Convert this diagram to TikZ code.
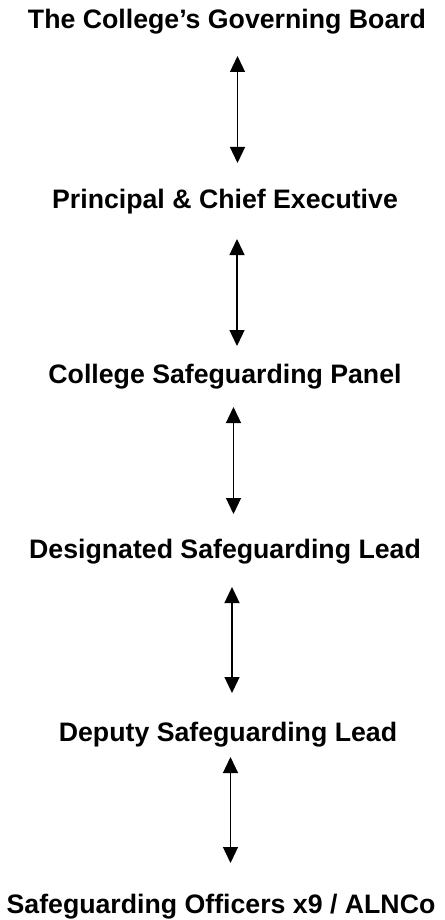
\documentclass[tikz,border=0pt]{standalone}
\usepackage{fontspec}
\setmainfont{Liberation Sans}
\usepackage{tikz}
\usetikzlibrary{arrows.meta, positioning}

\tikzset{
  level/.style={font=\bfseries\fontsize{26.7}{32}\selectfont, inner sep=0pt},
  link/.style={line width=1.3pt, {Triangle[width=15pt,length=16pt]}-{Triangle[width=15pt,length=16pt]}}
}

\begin{document}
\begin{tikzpicture}[x=1pt,y=-1pt]
\useasboundingbox (0,0) rectangle (444,920);
% Levels
\node[level] (board) at (227,22) {The College’s Governing Board};
\node[level] (principal) at (225,202) {Principal \& Chief Executive};
\node[level] (panel) at (225,377) {College Safeguarding Panel};
\node[level] (dsl) at (225,552) {Designated Safeguarding Lead};
\node[level] (deputy) at (228,735) {Deputy Safeguarding Lead};
\node[level] (officers) at (221,907) {Safeguarding Officers x9 / ALNCo};

% Arrow ends
\coordinate (a1) at (237.5,56);  \coordinate (b1) at (237.5,163);
\coordinate (a2) at (237,239);   \coordinate (b2) at (237,346);
\coordinate (a3) at (233.5,407); \coordinate (b3) at (233.5,514);
\coordinate (a4) at (232,587);   \coordinate (b4) at (232,693);
\coordinate (a5) at (230.5,757); \coordinate (b5) at (230.5,863);

% Links
\foreach \i in {1,...,5} {
  \draw[link] (a\i) -- (b\i);
}
\end{tikzpicture}
\end{document}
